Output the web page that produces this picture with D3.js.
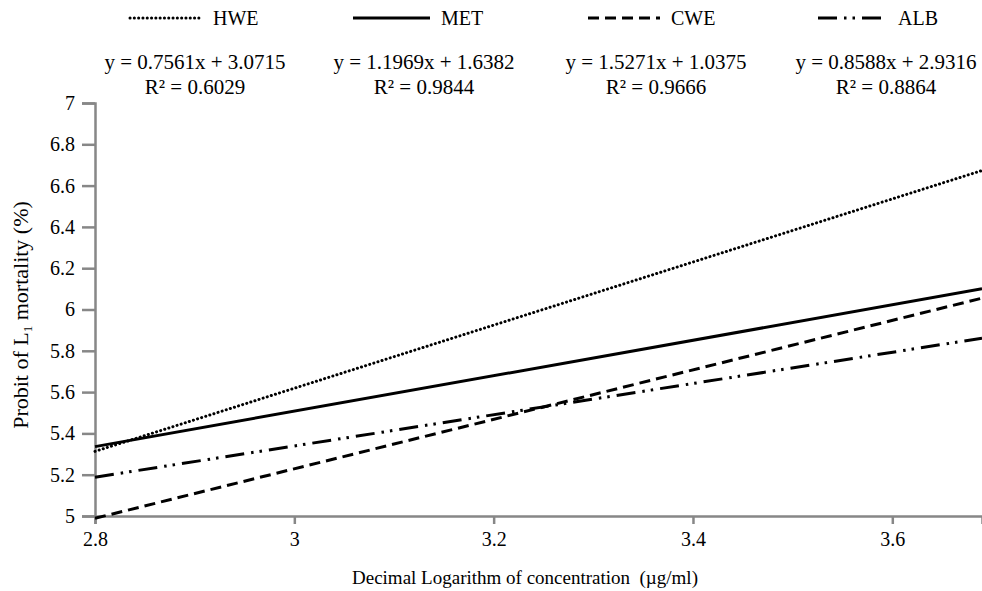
<!DOCTYPE html>
<html><head><meta charset="utf-8">
<script src="https://cdn.jsdelivr.net/npm/d3@7"></script>
<style>body{margin:0;background:#fff}svg{display:block}text{font-family:"Liberation Serif","Times New Roman",serif;fill:#000}</style>
</head><body><svg id="c" width="982" height="591"></svg>
<script>
const seriesNames = ["HWE", "MET", "CWE", "ALB"];
const xValues = [2.8, 3.69];
const hweValues = [5.313, 6.673];
const metValues = [5.336, 6.100];
const cweValues = [4.989, 6.055];
const albValues = [5.188, 5.861];
const equations = ["y = 0.7561x + 3.0715", "y = 1.1969x + 1.6382", "y = 1.5271x + 1.0375", "y = 0.8588x + 2.9316"];
const r2Labels = ["R² = 0.6029", "R² = 0.9844", "R² = 0.9666", "R² = 0.8864"];
const xTicks = [2.8, 3, 3.2, 3.4, 3.6];
const yTicks = [5, 5.2, 5.4, 5.6, 5.8, 6, 6.2, 6.4, 6.6, 6.8, 7];

const svg = d3.select("#c");
const x = d3.scaleLinear().domain([2.8, 3.69]).range([95, 982]);
const y = d3.scaleLinear().domain([5, 7]).range([516, 103]);
const dashes = ["0.1,4.2", null, "11,6", "19,7,2.5,6,2.5,7"];
const series = [hweValues, metValues, cweValues, albValues];

// axes
const gx = svg.append("g").attr("transform", "translate(0,516)")
  .call(d3.axisBottom(x).tickValues(xTicks).tickSize(8).tickPadding(8).tickFormat(d3.format("")));
const gy = svg.append("g").attr("transform", "translate(95,0)")
  .call(d3.axisLeft(y).tickValues(yTicks).tickSize(13).tickPadding(7).tickFormat(d3.format("")));
[gx, gy].forEach(g => {
  g.select(".domain").attr("stroke", "#878787").attr("stroke-width", 2.5);
  g.selectAll(".tick line").attr("stroke", "#878787").attr("stroke-width", 2.5);
  g.selectAll(".tick text").attr("font-size", 20).attr("font-family", "Liberation Serif").attr("fill", "#000");
});

// lines
const line = d3.line().x((d, i) => x(xValues[i])).y(d => y(d));
series.forEach((s, i) => {
  svg.append("path").attr("d", line(s)).attr("fill", "none").attr("stroke", "#000")
    .attr("stroke-width", 3).attr("stroke-dasharray", dashes[i])
    .attr("stroke-linecap", i === 0 ? "round" : "butt");
});

// legend
const legX = [[130, 202], [353, 430], [588, 660], [818, 887]];
seriesNames.forEach((n, i) => {
  svg.append("line").attr("x1", legX[i][0]).attr("x2", legX[i][1]).attr("y1", 18).attr("y2", 18)
    .attr("stroke", "#000").attr("stroke-width", 3).attr("stroke-dasharray", dashes[i])
    .attr("stroke-linecap", i === 0 ? "round" : "butt");
  svg.append("text").attr("x", legX[i][1] + 11).attr("y", 25).attr("font-size", 20).text(n);
});

// equations
const eqX = [195, 424, 656, 886];
equations.forEach((e, i) => {
  svg.append("text").attr("x", eqX[i]).attr("y", 69).attr("text-anchor", "middle").attr("font-size", 21).text(e);
  svg.append("text").attr("x", eqX[i]).attr("y", 94).attr("text-anchor", "middle").attr("font-size", 21).text(r2Labels[i]);
});

// axis titles
svg.append("text").attr("x", 525).attr("y", 584).attr("text-anchor", "middle").attr("font-size", 19)
  .attr("xml:space", "preserve").text("Decimal Logarithm of concentration  (µg/ml)");
const yt = svg.append("text").attr("transform", "translate(28,315) rotate(-90)").attr("text-anchor", "middle").attr("font-size", 22);
yt.append("tspan").text("Probit of L");
yt.append("tspan").attr("font-size", 13).attr("dy", 4).text("1");
yt.append("tspan").attr("dy", -4).text(" mortality (%)");
</script></body></html>
